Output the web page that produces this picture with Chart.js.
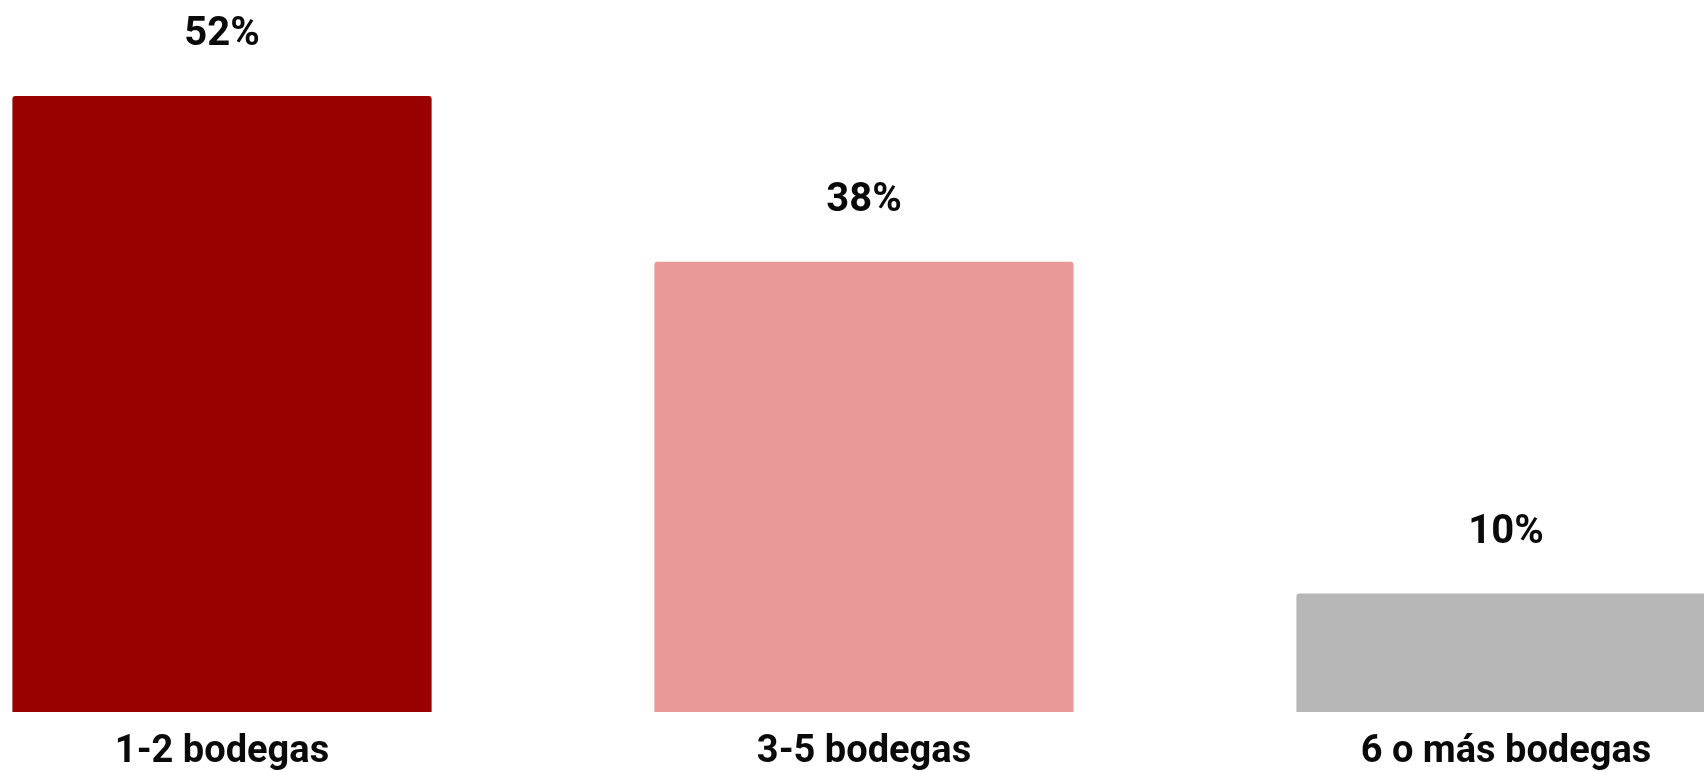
<!DOCTYPE html>
<html>
<head>
<meta charset="utf-8">
<script src="https://cdn.jsdelivr.net/npm/chart.js@4"></script>
<style>
  html, body { margin: 0; padding: 0; background: #fff; overflow: hidden; }
  #wrap { position: absolute; left: -99px; top: 0; width: 1926px; height: 772px; }
</style>
</head>
<body>
<div id="wrap"><canvas id="barChart" width="1926" height="772"></canvas></div>
<script>
// Chart data
const categories = ['1-2 bodegas', '3-5 bodegas', '6 o más bodegas'];
const shares = [52, 38, 10];
const barColors = ['#990000', '#ea9999', '#b7b7b7'];

// Draw the percent labels above each bar
const valueLabels = {
    id: 'valueLabels',
    afterDatasetsDraw(chart) {
        const ctx = chart.ctx;
        const meta = chart.getDatasetMeta(0);
        ctx.save();
        ctx.font = 'bold 40px Roboto';
        ctx.fillStyle = '#0a0a0a';
        ctx.textAlign = 'center';
        ctx.textBaseline = 'middle';
        meta.data.forEach((bar, i) => {
            ctx.fillText(shares[i] + '%', bar.x, bar.y - 61);
        });
        ctx.restore();
    }
};

new Chart(document.getElementById('barChart'), {
    type: 'bar',
    data: {
        labels: categories,
        datasets: [{
            data: shares,
            backgroundColor: barColors,
            borderWidth: 0,
            borderRadius: { topLeft: 3, topRight: 3 },
            borderSkipped: 'bottom',
            barPercentage: 1,
            categoryPercentage: 0.653
        }]
    },
    options: {
        responsive: false,
        animation: false,
        layout: { padding: { top: 96, left: 0, right: 0, bottom: 0 } },
        plugins: {
            legend: { display: false },
            tooltip: { enabled: false }
        },
        scales: {
            x: {
                grid: { display: false, drawTicks: false },
                border: { display: false },
                ticks: {
                    color: '#0a0a0a',
                    padding: 18,
                    font: { family: 'Roboto', size: 38, weight: 'bold' }
                },
                afterFit(scale) { scale.height = 60; }
            },
            y: {
                display: false,
                min: 0,
                max: 52
            }
        }
    },
    plugins: [valueLabels]
});
</script>
</body>
</html>
